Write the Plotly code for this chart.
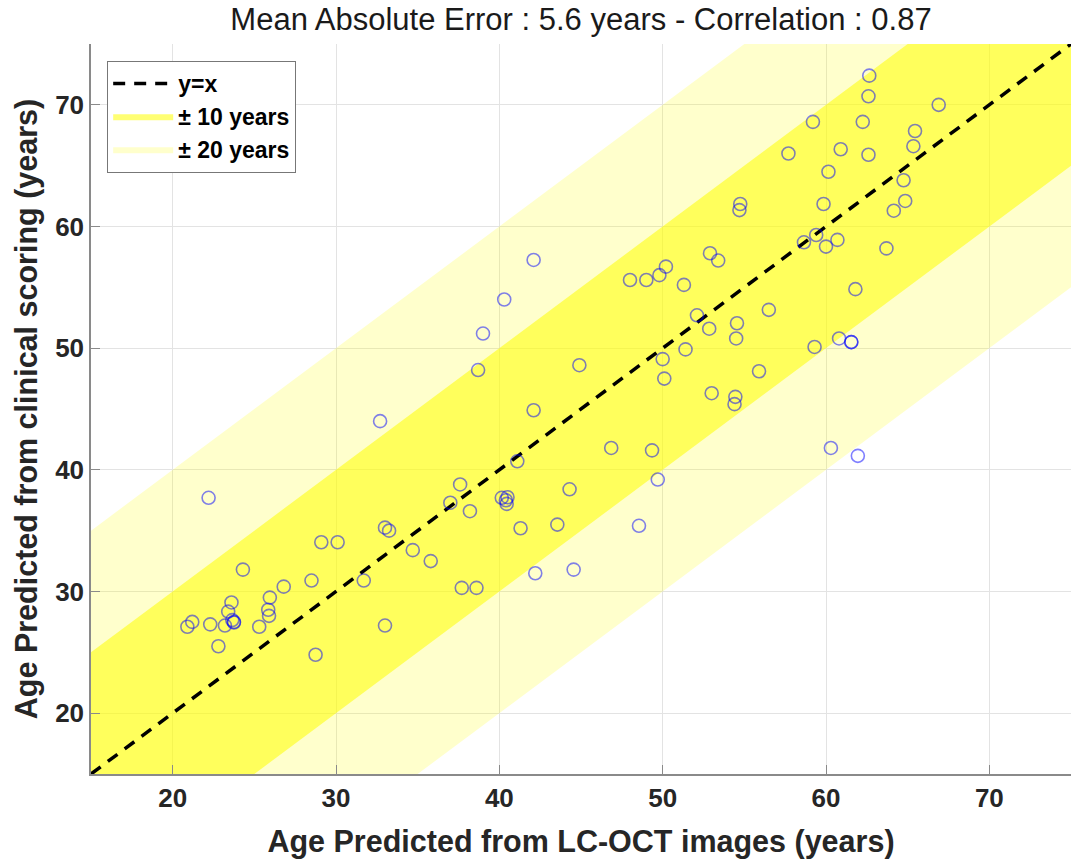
import plotly.graph_objects as go

# ---- data ----
oct_age = [32.7, 22.2, 29.1, 30.1, 33.0, 33.25, 34.7, 35.8, 24.3, 28.5,
           26.8, 31.7, 25.95, 23.6, 23.4, 25.85, 25.9, 21.2, 20.9, 22.3,
           23.2, 23.65, 23.75, 23.75, 25.3, 22.8, 33.0, 28.75, 38.7, 44.9,
           42.1, 41.1, 37.6, 37.0, 38.2, 40.15, 40.5, 40.45, 40.4, 41.3,
           44.3, 43.55, 46.85, 49.35, 49.7, 48.55, 42.2, 44.55, 37.7, 38.6,
           50.1, 50.0, 42.1, 40.3, 39.0, 48.0, 49.0, 49.8, 50.2, 51.3,
           52.1, 51.4, 62.65, 62.6, 66.9, 59.2, 62.25, 65.45, 65.35, 57.7,
           60.9, 62.6, 60.15, 64.75, 64.85, 64.15, 59.85, 54.75, 54.7, 58.65,
           59.4, 60.0, 60.7, 63.7, 52.9, 53.4, 61.8, 56.5, 52.85, 54.55,
           54.5, 59.3, 60.8, 61.55, 61.55, 55.9, 53.0, 54.45, 54.4, 60.3,
           61.95]
clinical_age = [44.0, 37.7, 34.05, 34.05, 35.25, 35.0, 33.4, 32.5, 31.8, 30.9,
                30.4, 30.9, 29.5, 29.1, 28.35, 28.5, 28.0, 27.5, 27.1, 27.3,
                27.2, 27.65, 27.45, 27.5, 27.1, 25.5, 27.2, 24.8, 48.2, 48.6,
                44.9, 40.7, 38.8, 37.3, 36.6, 37.7, 37.75, 37.2, 37.5, 35.2,
                38.4, 35.5, 41.8, 41.6, 39.2, 35.4, 31.5, 31.8, 30.3, 30.3,
                47.5, 49.1, 57.25, 54.0, 51.2, 55.6, 55.6, 56.0, 56.7, 55.2,
                52.7, 49.9, 72.4, 70.7, 70.0, 68.6, 68.6, 67.85, 66.6, 66.0,
                66.35, 65.9, 64.5, 63.8, 62.1, 61.3, 61.85, 61.85, 61.35, 58.7,
                59.3, 58.35, 58.9, 58.2, 57.8, 57.2, 54.85, 53.15, 51.6, 52.05,
                50.8, 50.1, 50.8, 50.5, 50.5, 48.1, 46.3, 46.0, 45.4, 41.8,
                41.15]

axis_range = [15, 75]
band_widths = [20, 10]
band_names = ["± 20 years", "± 10 years"]
band_colors = ["rgba(255,255,0,0.2)", "rgba(255,255,0,0.55)"]
tick_vals = [20, 30, 40, 50, 60, 70]

title_text = "Mean Absolute Error : 5.6 years - Correlation : 0.87"
x_title = "Age Predicted from LC-OCT images (years)"
y_title = "Age Predicted from clinical scoring (years)"

FONT = "Arial, Liberation Sans, sans-serif"

fig = go.Figure()

x0, x1 = axis_range
for w, name, col in zip(band_widths, band_names, band_colors):
    fig.add_trace(go.Scatter(
        x=[x0, x1, x1, x0, x0],
        y=[x0 + w, x1 + w, x1 - w, x0 - w, x0 + w],
        mode="lines", fill="toself", fillcolor=col,
        line=dict(width=0), name=name, showlegend=True,
        hoverinfo="skip"))

fig.add_trace(go.Scatter(
    x=axis_range, y=axis_range, mode="lines", name="y=x",
    line=dict(color="black", width=3.5, dash="12px,9px")))

fig.add_trace(go.Scatter(
    x=oct_age, y=clinical_age, mode="markers", showlegend=False,
    marker=dict(symbol="circle-open", size=13,
                color="rgba(0,0,255,0.5)",
                line=dict(width=1.6, color="rgba(0,0,255,0.5)"))))

axis_common = dict(
    range=axis_range, tickvals=tick_vals, showgrid=True,
    gridcolor="#e3e3e3", gridwidth=1, zeroline=False,
    showline=True, linecolor="#8a8a8a", linewidth=1.5,
    ticks="inside", ticklen=9, tickwidth=1.2, tickcolor="#8a8a8a",
    tickfont=dict(family=FONT, size=26, color="#262626", weight="bold"),
    mirror=False)

fig.update_layout(
    width=1078, height=860,
    margin=dict(l=91, r=7, t=44, b=86),
    plot_bgcolor="white", paper_bgcolor="white",
    title=dict(text=title_text, x=(91 + 1071) / 2 / 1078, xanchor="center",
               y=1 - 19 / 860, yanchor="middle",
               font=dict(family=FONT, size=31, color="#1a1a1a")),
    xaxis=dict(**axis_common,
               title=dict(text=x_title, standoff=19,
                          font=dict(family=FONT, size=30.5, color="#262626",
                                    weight="bold"))),
    yaxis=dict(**axis_common,
               title=dict(text=y_title, standoff=8,
                          font=dict(family=FONT, size=30.5, color="#262626",
                                    weight="bold"))),
    legend=dict(x=0.0163, y=0.977, xanchor="left", yanchor="top",
                bgcolor="white", bordercolor="#777777", borderwidth=1.2,
                traceorder="reversed",
                font=dict(family=FONT, size=23, color="black", weight="bold"),
                itemwidth=60, tracegroupgap=0),
    showlegend=True,
)

fig.write_html("out.html")
